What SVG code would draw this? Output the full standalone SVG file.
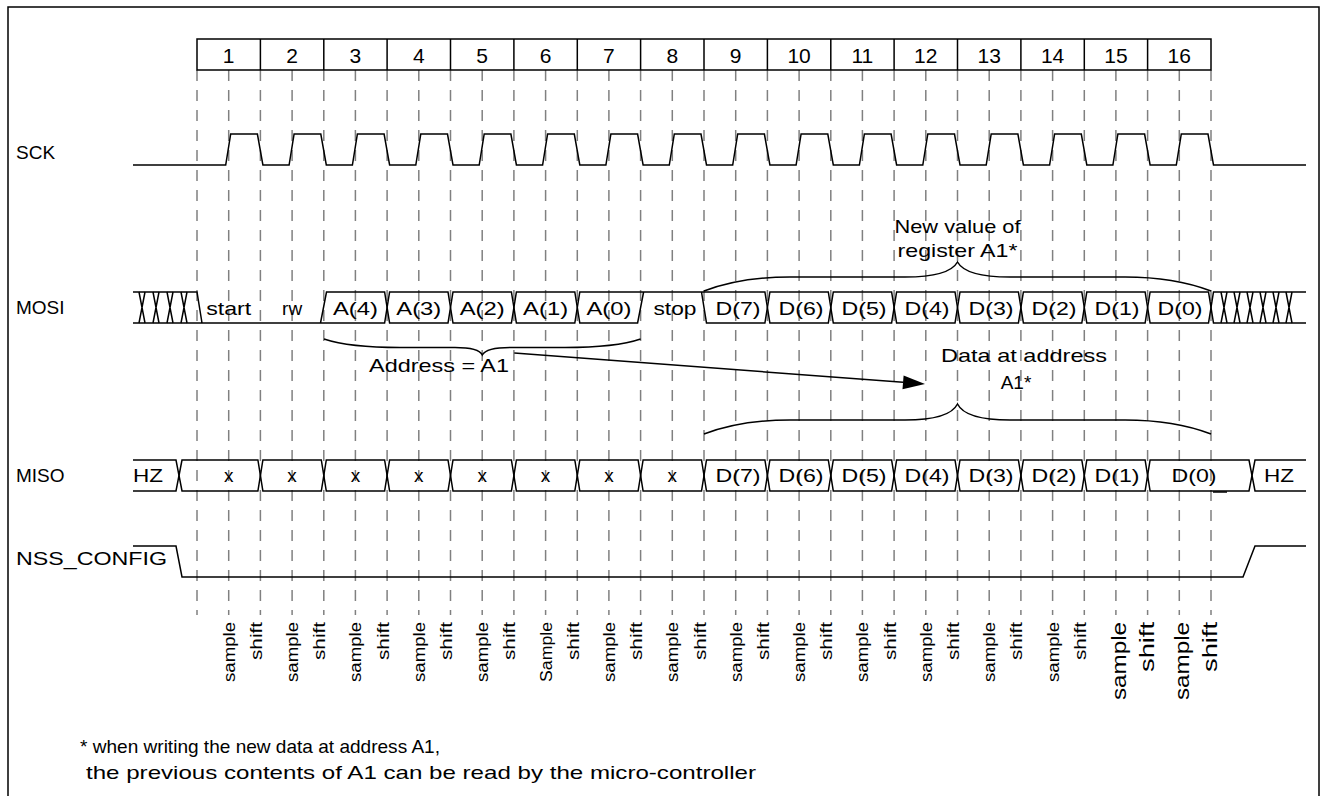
<svg xmlns="http://www.w3.org/2000/svg" width="1323" height="796" viewBox="0 0 1323 796">
<style>
.ln{stroke:#000;stroke-width:1.5;fill:none}
.dash{stroke:#808080;stroke-width:1.5;fill:none;stroke-dasharray:11 9}
.t{font-family:"Liberation Sans",Arial,sans-serif;font-size:19px;fill:#000}
.c{text-anchor:middle}
.hd{font-size:21px}
.bl{font-size:16px;text-anchor:end}
.bg{font-size:19.5px;text-anchor:end}
</style>
<rect x="8" y="7" width="1311" height="800" fill="#fff" stroke="#000" stroke-width="1.5"/>
<g id="grid">
<path class="dash" d="M197,70V615M228.7,70V615M260.4,70V615M292.1,70V615M323.8,70V615M355.4,70V615M387.1,70V615M418.8,70V615M450.5,70V615M482.2,70V615M513.9,70V615M545.6,70V615M577.3,70V615M608.9,70V615M640.6,70V615M672.3,70V615M704,70V615M735.7,70V615M767.4,70V615M799.1,70V615M830.8,70V615M862.4,70V615M894.1,70V615M925.8,70V615M957.5,70V615M989.2,70V615M1020.9,70V615M1052.6,70V615M1084.3,70V615M1115.9,70V615M1147.6,70V615M1179.3,70V615M1211,70V615"/>
</g>
<g id="header">
<rect class="ln" x="197" y="39" width="1014" height="31"/>
<path class="ln" d="M260.4,39V70M323.8,39V70M387.1,39V70M450.5,39V70M513.9,39V70M577.3,39V70M640.6,39V70M704,39V70M767.4,39V70M830.8,39V70M894.1,39V70M957.5,39V70M1020.9,39V70M1084.3,39V70M1147.6,39V70"/>
<g class="t c hd">
<text x="228.7" y="63">1</text><text x="292.1" y="63">2</text><text x="355.4" y="63">3</text><text x="418.8" y="63">4</text><text x="482.2" y="63">5</text><text x="545.6" y="63">6</text><text x="608.9" y="63">7</text><text x="672.3" y="63">8</text><text x="735.7" y="63">9</text><text x="799.1" y="63">10</text><text x="862.4" y="63">11</text><text x="925.8" y="63">12</text><text x="989.2" y="63">13</text><text x="1052.6" y="63">14</text><text x="1115.9" y="63">15</text><text x="1179.3" y="63">16</text>
</g>
</g>
<g id="labels" class="t">
<text x="16" y="159">SCK</text>
<text x="16" y="314">MOSI</text>
<text x="16" y="482">MISO</text>
<text x="16" y="565" textLength="151" lengthAdjust="spacingAndGlyphs">NSS_CONFIG</text>
</g>
<g id="sck">
<path class="ln" d="M133,165L225.7,165L230.7,134L257.4,134L262.9,165L289.1,165L294.1,134L320.8,134L326.3,165L352.4,165L357.4,134L384.1,134L389.6,165L415.8,165L420.8,134L447.5,134L453,165L479.2,165L484.2,134L510.9,134L516.4,165L542.6,165L547.6,134L574.3,134L579.8,165L605.9,165L610.9,134L637.6,134L643.1,165L669.3,165L674.3,134L701,134L706.5,165L732.7,165L737.7,134L764.4,134L769.9,165L796.1,165L801.1,134L827.8,134L833.3,165L859.4,165L864.4,134L891.1,134L896.6,165L922.8,165L927.8,134L954.5,134L960,165L986.2,165L991.2,134L1017.9,134L1023.4,165L1049.6,165L1054.6,134L1081.3,134L1086.8,165L1112.9,165L1117.9,134L1144.6,134L1150.1,165L1176.3,165L1181.3,134L1208,134L1213.5,165L1306,165"/>
</g>
<g id="mosi">
<path class="ln" d="M133,292H197L202,323M133,323H384.6L387.1,307.5L384.6,292H326.5L320.5,323"/>
<path class="ln" d="M139,292L145,323M145,292L139,323M153,292L159,323M159,292L153,323M167,292L173,323M173,292L167,323M181,292L187,323M187,292L181,323"/>
<polygon class="ln" points="387.1,307.5 389.6,292 448,292 450.5,307.5 448,323 389.6,323"/>
<polygon class="ln" points="450.5,307.5 453,292 511.4,292 513.9,307.5 511.4,323 453,323"/>
<polygon class="ln" points="513.9,307.5 516.4,292 574.8,292 577.3,307.5 574.8,323 516.4,323"/>
<path class="ln" d="M577.3,307.5L579.8,323H637.6L643.6,292M577.3,307.5L579.8,292H764.9L767.4,307.5L764.9,323H706.5L701.5,292"/>
<polygon class="ln" points="767.4,307.5 769.9,292 828.3,292 830.8,307.5 828.3,323 769.9,323"/>
<polygon class="ln" points="830.8,307.5 833.3,292 891.6,292 894.1,307.5 891.6,323 833.3,323"/>
<polygon class="ln" points="894.1,307.5 896.6,292 955,292 957.5,307.5 955,323 896.6,323"/>
<polygon class="ln" points="957.5,307.5 960,292 1018.4,292 1020.9,307.5 1018.4,323 960,323"/>
<polygon class="ln" points="1020.9,307.5 1023.4,292 1081.8,292 1084.3,307.5 1081.8,323 1023.4,323"/>
<polygon class="ln" points="1084.3,307.5 1086.8,292 1145.1,292 1147.6,307.5 1145.1,323 1086.8,323"/>
<polygon class="ln" points="1147.6,307.5 1150.1,292 1208.5,292 1211,307.5 1208.5,323 1150.1,323"/>
<path class="ln" d="M1211,307.5L1213.5,292H1306M1211,307.5L1213.5,323H1306"/>
<path class="ln" d="M1221,292L1227,323M1227,292L1221,323M1234,292L1240,323M1240,292L1234,323M1247,292L1253,323M1253,292L1247,323M1260,292L1266,323M1266,292L1260,323M1273,292L1279,323M1279,292L1273,323M1286,292L1292,323M1292,292L1286,323"/>
<g class="t c">
<text x="228.7" y="315" textLength="45" lengthAdjust="spacingAndGlyphs">start</text>
<text x="292.1" y="315">rw</text>
<text x="355.4" y="315" textLength="45" lengthAdjust="spacingAndGlyphs">A(4)</text>
<text x="418.8" y="315" textLength="45" lengthAdjust="spacingAndGlyphs">A(3)</text>
<text x="482.2" y="315" textLength="45" lengthAdjust="spacingAndGlyphs">A(2)</text>
<text x="545.6" y="315" textLength="45" lengthAdjust="spacingAndGlyphs">A(1)</text>
<text x="608.9" y="315" textLength="45" lengthAdjust="spacingAndGlyphs">A(0)</text>
<text x="675" y="315" textLength="43" lengthAdjust="spacingAndGlyphs">stop</text>
<text x="738" y="315" textLength="45" lengthAdjust="spacingAndGlyphs">D(7)</text>
<text x="801" y="315" textLength="45" lengthAdjust="spacingAndGlyphs">D(6)</text>
<text x="864" y="315" textLength="45" lengthAdjust="spacingAndGlyphs">D(5)</text>
<text x="927" y="315" textLength="45" lengthAdjust="spacingAndGlyphs">D(4)</text>
<text x="991" y="315" textLength="45" lengthAdjust="spacingAndGlyphs">D(3)</text>
<text x="1054" y="315" textLength="45" lengthAdjust="spacingAndGlyphs">D(2)</text>
<text x="1117" y="315" textLength="45" lengthAdjust="spacingAndGlyphs">D(1)</text>
<text x="1180" y="315" textLength="45" lengthAdjust="spacingAndGlyphs">D(0)</text>
</g>
</g>
<g id="miso">
<path class="ln" d="M133,460H176L179,475.5L176,491H133"/>
<polygon class="ln" points="179,475.5 182,460 257.9,460 260.4,475.5 257.9,491 182,491"/>
<polygon class="ln" points="260.4,475.5 262.9,460 321.3,460 323.8,475.5 321.3,491 262.9,491"/>
<polygon class="ln" points="323.8,475.5 326.3,460 384.6,460 387.1,475.5 384.6,491 326.3,491"/>
<polygon class="ln" points="387.1,475.5 389.6,460 448,460 450.5,475.5 448,491 389.6,491"/>
<polygon class="ln" points="450.5,475.5 453,460 511.4,460 513.9,475.5 511.4,491 453,491"/>
<polygon class="ln" points="513.9,475.5 516.4,460 574.8,460 577.3,475.5 574.8,491 516.4,491"/>
<polygon class="ln" points="577.3,475.5 579.8,460 638.1,460 640.6,475.5 638.1,491 579.8,491"/>
<polygon class="ln" points="640.6,475.5 643.1,460 701.5,460 704,475.5 701.5,491 643.1,491"/>
<polygon class="ln" points="704,475.5 706.5,460 764.9,460 767.4,475.5 764.9,491 706.5,491"/>
<polygon class="ln" points="767.4,475.5 769.9,460 828.3,460 830.8,475.5 828.3,491 769.9,491"/>
<polygon class="ln" points="830.8,475.5 833.3,460 891.6,460 894.1,475.5 891.6,491 833.3,491"/>
<polygon class="ln" points="894.1,475.5 896.6,460 955,460 957.5,475.5 955,491 896.6,491"/>
<polygon class="ln" points="957.5,475.5 960,460 1018.4,460 1020.9,475.5 1018.4,491 960,491"/>
<polygon class="ln" points="1020.9,475.5 1023.4,460 1081.8,460 1084.3,475.5 1081.8,491 1023.4,491"/>
<polygon class="ln" points="1084.3,475.5 1086.8,460 1145.1,460 1147.6,475.5 1145.1,491 1086.8,491"/>
<polygon class="ln" points="1147.6,475.5 1150.1,460 1249,460 1252,475.5 1249,491 1150.1,491"/>
<path class="ln" d="M1306,460H1255L1252,475.5L1255,491H1306"/>
<path class="ln" stroke-width="2.5" d="M1213,492H1227"/>
<g class="t">
<text x="133" y="482" textLength="30" lengthAdjust="spacingAndGlyphs">HZ</text>
<text x="1264" y="482" textLength="30" lengthAdjust="spacingAndGlyphs">HZ</text>
</g>
<g class="t c">
<text x="228.7" y="482">x</text><text x="292.1" y="482">x</text><text x="355.4" y="482">x</text><text x="418.8" y="482">x</text><text x="482.2" y="482">x</text><text x="545.6" y="482">x</text><text x="608.9" y="482">x</text><text x="672.3" y="482">x</text>
<text x="738" y="482" textLength="45" lengthAdjust="spacingAndGlyphs">D(7)</text>
<text x="801" y="482" textLength="45" lengthAdjust="spacingAndGlyphs">D(6)</text>
<text x="864" y="482" textLength="45" lengthAdjust="spacingAndGlyphs">D(5)</text>
<text x="927" y="482" textLength="45" lengthAdjust="spacingAndGlyphs">D(4)</text>
<text x="991" y="482" textLength="45" lengthAdjust="spacingAndGlyphs">D(3)</text>
<text x="1054" y="482" textLength="45" lengthAdjust="spacingAndGlyphs">D(2)</text>
<text x="1117" y="482" textLength="45" lengthAdjust="spacingAndGlyphs">D(1)</text>
<text x="1194" y="482" textLength="45" lengthAdjust="spacingAndGlyphs">D(0)</text>
</g>
</g>
<g id="nss">
<path class="ln" d="M133,546H176L182,577H1243L1255,546H1306"/>
</g>
<g id="annotations">
<path class="ln" d="M704,291C725,283 750,277 790,277L905,277C935,277 952,272 957.5,262C963,272 980,277 1010,277L1125,277C1165,277 1190,283 1211,291"/>
<path class="ln" d="M324,339C345,346 370,347.5 400,347.5L455,347.5C472,347.5 480,350 482.3,355C485,350 493,347.5 510,347.5L565,347.5C595,347.5 620,346 640.6,339"/>
<path class="ln" d="M704,434C725,426 750,420 790,420L905,420C935,420 952,415 957.5,404C963,415 980,420 1010,420L1125,420C1165,420 1190,426 1211,434"/>
<g class="t c">
<text x="957.5" y="233" textLength="126" lengthAdjust="spacingAndGlyphs">New value of</text>
<text x="957.5" y="257" textLength="120" lengthAdjust="spacingAndGlyphs">register A1*</text>
<text x="439" y="372" textLength="140" lengthAdjust="spacingAndGlyphs">Address = A1</text>
<text x="1024" y="362" textLength="166" lengthAdjust="spacingAndGlyphs">Data at address</text>
<text x="1016" y="389">A1*</text>
</g>
</g>
<g id="connectors">
<path class="ln" d="M514.3,353L903.1,382.3"/>
<polygon points="925,384 903.6,375.4 902.5,389.3" fill="#000"/>
</g>
<g id="edge-labels" class="t">
<text class="bl" transform="translate(234.7,622) rotate(-90)" textLength="60" lengthAdjust="spacingAndGlyphs">sample</text>
<text class="bl" transform="translate(261.9,622) rotate(-90)" textLength="38" lengthAdjust="spacingAndGlyphs">shift</text>
<text class="bl" transform="translate(298.1,622) rotate(-90)" textLength="60" lengthAdjust="spacingAndGlyphs">sample</text>
<text class="bl" transform="translate(325.3,622) rotate(-90)" textLength="38" lengthAdjust="spacingAndGlyphs">shift</text>
<text class="bl" transform="translate(361.4,622) rotate(-90)" textLength="60" lengthAdjust="spacingAndGlyphs">sample</text>
<text class="bl" transform="translate(388.6,622) rotate(-90)" textLength="38" lengthAdjust="spacingAndGlyphs">shift</text>
<text class="bl" transform="translate(424.8,622) rotate(-90)" textLength="60" lengthAdjust="spacingAndGlyphs">sample</text>
<text class="bl" transform="translate(452,622) rotate(-90)" textLength="38" lengthAdjust="spacingAndGlyphs">shift</text>
<text class="bl" transform="translate(488.2,622) rotate(-90)" textLength="60" lengthAdjust="spacingAndGlyphs">sample</text>
<text class="bl" transform="translate(515.4,622) rotate(-90)" textLength="38" lengthAdjust="spacingAndGlyphs">shift</text>
<text class="bl" transform="translate(551.6,622) rotate(-90)" textLength="60" lengthAdjust="spacingAndGlyphs">Sample</text>
<text class="bl" transform="translate(578.8,622) rotate(-90)" textLength="38" lengthAdjust="spacingAndGlyphs">shift</text>
<text class="bl" transform="translate(614.9,622) rotate(-90)" textLength="60" lengthAdjust="spacingAndGlyphs">sample</text>
<text class="bl" transform="translate(642.1,622) rotate(-90)" textLength="38" lengthAdjust="spacingAndGlyphs">shift</text>
<text class="bl" transform="translate(678.3,622) rotate(-90)" textLength="60" lengthAdjust="spacingAndGlyphs">sample</text>
<text class="bl" transform="translate(705.5,622) rotate(-90)" textLength="38" lengthAdjust="spacingAndGlyphs">shift</text>
<text class="bl" transform="translate(741.7,622) rotate(-90)" textLength="60" lengthAdjust="spacingAndGlyphs">sample</text>
<text class="bl" transform="translate(768.9,622) rotate(-90)" textLength="38" lengthAdjust="spacingAndGlyphs">shift</text>
<text class="bl" transform="translate(805.1,622) rotate(-90)" textLength="60" lengthAdjust="spacingAndGlyphs">sample</text>
<text class="bl" transform="translate(832.3,622) rotate(-90)" textLength="38" lengthAdjust="spacingAndGlyphs">shift</text>
<text class="bl" transform="translate(868.4,622) rotate(-90)" textLength="60" lengthAdjust="spacingAndGlyphs">sample</text>
<text class="bl" transform="translate(895.6,622) rotate(-90)" textLength="38" lengthAdjust="spacingAndGlyphs">shift</text>
<text class="bl" transform="translate(931.8,622) rotate(-90)" textLength="60" lengthAdjust="spacingAndGlyphs">sample</text>
<text class="bl" transform="translate(959,622) rotate(-90)" textLength="38" lengthAdjust="spacingAndGlyphs">shift</text>
<text class="bl" transform="translate(995.2,622) rotate(-90)" textLength="60" lengthAdjust="spacingAndGlyphs">sample</text>
<text class="bl" transform="translate(1022.4,622) rotate(-90)" textLength="38" lengthAdjust="spacingAndGlyphs">shift</text>
<text class="bl" transform="translate(1058.6,622) rotate(-90)" textLength="60" lengthAdjust="spacingAndGlyphs">sample</text>
<text class="bl" transform="translate(1085.8,622) rotate(-90)" textLength="38" lengthAdjust="spacingAndGlyphs">shift</text>
<text class="bg" transform="translate(1125.9,622) rotate(-90)" textLength="78" lengthAdjust="spacingAndGlyphs">sample</text>
<text class="bg" transform="translate(1153.6,622) rotate(-90)" textLength="50" lengthAdjust="spacingAndGlyphs">shift</text>
<text class="bg" transform="translate(1189.3,622) rotate(-90)" textLength="78" lengthAdjust="spacingAndGlyphs">sample</text>
<text class="bg" transform="translate(1217,622) rotate(-90)" textLength="50" lengthAdjust="spacingAndGlyphs">shift</text>
</g>
<g id="footnote" class="t">
<text x="80" y="753" textLength="360" lengthAdjust="spacingAndGlyphs">* when writing the new data at address A1,</text>
<text x="86" y="779" textLength="670" lengthAdjust="spacingAndGlyphs">the previous contents of A1 can be read by the micro-controller</text>
</g>
</svg>
